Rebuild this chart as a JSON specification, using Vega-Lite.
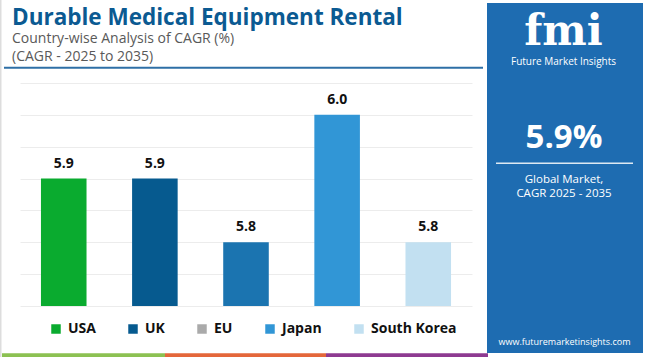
{
  "$schema": "https://vega.github.io/schema/vega-lite/v6.json",
  "width": 452,
  "height": 223,
  "autosize": {"type": "none"},
  "padding": {"left": 20, "top": 83, "right": 178, "bottom": 51},
  "background": "white",
  "config": {"font": "Open Sans", "view": {"stroke": null}},
  "layer": [
    {
      "data": {"values": [
        {"Country": "USA", "CAGR": 5.9},
        {"Country": "UK", "CAGR": 5.9},
        {"Country": "EU", "CAGR": 5.8},
        {"Country": "Japan", "CAGR": 6.0},
        {"Country": "South Korea", "CAGR": 5.8}
      ]},
      "encoding": {
        "x": {"field": "Country", "type": "nominal", "sort": null,
              "scale": {"paddingInner": 0.5, "paddingOuter": 0.23}, "axis": null},
        "y": {"field": "CAGR", "type": "quantitative",
              "scale": {"domain": [5.7, 6.05], "nice": false, "zero": false},
              "axis": {"grid": true, "labels": false, "ticks": false, "domain": false, "title": null,
                       "values": [5.7, 5.75, 5.8, 5.85, 5.9, 5.95, 6.0, 6.05],
                       "gridColor": "#ececec", "gridWidth": 1}}
      },
      "layer": [
        {
          "mark": {"type": "bar"},
          "encoding": {
            "y2": {"datum": 5.7},
            "color": {"field": "Country", "type": "nominal", "sort": null,
              "scale": {"domain": ["USA", "UK", "EU", "Japan", "South Korea"],
                        "range": ["#0aab2f", "#065a8f", "#1b74b0", "#3196d6", "#c2e0f1"]},
              "legend": null}
          }
        },
        {
          "mark": {"type": "text", "baseline": "alphabetic", "dy": -11, "fontSize": 14,
                   "fontWeight": "bold", "color": "#111111", "font": "Open Sans"},
          "encoding": {"text": {"field": "CAGR", "type": "quantitative", "format": ".1f"}}
        }
      ]
    },
    {
      "data": {"values": [
        {"Country": "USA"},
        {"Country": "UK"},
        {"Country": "EU"},
        {"Country": "Japan"},
        {"Country": "South Korea"}
      ]},
      "mark": {"type": "square", "size": 0, "opacity": 0},
      "encoding": {
        "color": {"field": "Country", "type": "nominal", "sort": null,
          "scale": {"domain": ["USA", "UK", "EU", "Japan", "South Korea"],
                    "range": ["#0aab2f", "#065a8f", "#aaaaaa", "#3196d6", "#c2e0f1"]},
          "legend": {"orient": "none", "legendX": 29, "legendY": 239, "direction": "horizontal",
                     "columns": 5, "gridAlign": "none", "title": null, "symbolType": "square", "symbolSize": 90,
                     "symbolStrokeWidth": 0, "symbolOpacity": 1, "labelFont": "Open Sans", "labelFontSize": 14,
                     "labelFontWeight": "bold", "labelColor": "#111111", "columnPadding": 30,
                     "labelOffset": 5, "padding": 0}
        }
      }
    },
    {
      "data": {"values": [{}]},
      "layer": [
        {
          "mark": {"type": "rule", "color": "#2e6fa6", "strokeWidth": 2},
          "encoding": {
            "x": {"datum": 4, "type": "quantitative", "scale": {"domain": [20, 472], "nice": false, "zero": false}, "axis": null},
            "x2": {"datum": 483},
            "y": {"datum": 67.7, "type": "quantitative", "scale": {"domain": [306, 83], "nice": false, "zero": false}, "axis": null}
          }
        },
        {
          "mark": {"type": "rule", "color": "#dddddd", "strokeWidth": 1.5},
          "encoding": {
            "x": {"datum": 0.75, "type": "quantitative", "scale": {"domain": [20, 472], "nice": false, "zero": false}, "axis": null},
            "y": {"datum": 0, "type": "quantitative", "scale": {"domain": [306, 83], "nice": false, "zero": false}, "axis": null},
            "y2": {"datum": 357}
          }
        },
        {
          "mark": {"type": "text", "text": "Durable Medical Equipment Rental", "font": "Open Sans", "fontWeight": "bold", "fontSize": 22.5, "color": "#0b5a92", "align": "left", "baseline": "alphabetic"},
          "encoding": {
            "x": {"datum": 12, "type": "quantitative", "scale": {"domain": [20, 472], "nice": false, "zero": false}, "axis": null},
            "y": {"datum": 24.5, "type": "quantitative", "scale": {"domain": [306, 83], "nice": false, "zero": false}, "axis": null}
          }
        },
        {
          "mark": {"type": "text", "text": "Country-wise Analysis of CAGR (%)", "font": "Open Sans", "fontSize": 14, "color": "#595959", "align": "left", "baseline": "alphabetic"},
          "encoding": {
            "x": {"datum": 12, "type": "quantitative", "scale": {"domain": [20, 472], "nice": false, "zero": false}, "axis": null},
            "y": {"datum": 43, "type": "quantitative", "scale": {"domain": [306, 83], "nice": false, "zero": false}, "axis": null}
          }
        },
        {
          "mark": {"type": "text", "text": "(CAGR - 2025 to 2035)", "font": "Open Sans", "fontSize": 14, "color": "#595959", "align": "left", "baseline": "alphabetic"},
          "encoding": {
            "x": {"datum": 12, "type": "quantitative", "scale": {"domain": [20, 472], "nice": false, "zero": false}, "axis": null},
            "y": {"datum": 61.3, "type": "quantitative", "scale": {"domain": [306, 83], "nice": false, "zero": false}, "axis": null}
          }
        },
        {
          "mark": {"type": "rule", "color": "#8cc152", "strokeWidth": 4},
          "encoding": {
            "x": {"datum": 2, "type": "quantitative", "scale": {"domain": [20, 472], "nice": false, "zero": false}, "axis": null},
            "x2": {"datum": 165},
            "y": {"datum": 355.3, "type": "quantitative", "scale": {"domain": [306, 83], "nice": false, "zero": false}, "axis": null}
          }
        },
        {
          "mark": {"type": "rule", "color": "#e4673a", "strokeWidth": 4},
          "encoding": {
            "x": {"datum": 165, "type": "quantitative", "scale": {"domain": [20, 472], "nice": false, "zero": false}, "axis": null},
            "x2": {"datum": 326},
            "y": {"datum": 355.3, "type": "quantitative", "scale": {"domain": [306, 83], "nice": false, "zero": false}, "axis": null}
          }
        },
        {
          "mark": {"type": "rule", "color": "#8e3a91", "strokeWidth": 4},
          "encoding": {
            "x": {"datum": 326, "type": "quantitative", "scale": {"domain": [20, 472], "nice": false, "zero": false}, "axis": null},
            "x2": {"datum": 488},
            "y": {"datum": 355.3, "type": "quantitative", "scale": {"domain": [306, 83], "nice": false, "zero": false}, "axis": null}
          }
        },
        {
          "mark": {"type": "rect", "color": "#1e6cb1"},
          "encoding": {
            "x": {"datum": 487, "type": "quantitative", "scale": {"domain": [20, 472], "nice": false, "zero": false}, "axis": null},
            "x2": {"datum": 643},
            "y": {"datum": 3, "type": "quantitative", "scale": {"domain": [306, 83], "nice": false, "zero": false}, "axis": null},
            "y2": {"datum": 353}
          }
        },
        {
          "mark": {"type": "text", "text": "fmi", "font": "DejaVu Serif", "fontWeight": "bold", "fontSize": 42, "color": "#ffffff", "align": "center", "baseline": "alphabetic"},
          "encoding": {
            "x": {"datum": 563.5, "type": "quantitative", "scale": {"domain": [20, 472], "nice": false, "zero": false}, "axis": null},
            "y": {"datum": 45, "type": "quantitative", "scale": {"domain": [306, 83], "nice": false, "zero": false}, "axis": null}
          }
        },
        {
          "mark": {"type": "text", "text": "Future Market Insights", "fontSize": 10, "color": "#ffffff", "align": "center", "baseline": "alphabetic"},
          "encoding": {
            "x": {"datum": 563.5, "type": "quantitative", "scale": {"domain": [20, 472], "nice": false, "zero": false}, "axis": null},
            "y": {"datum": 65, "type": "quantitative", "scale": {"domain": [306, 83], "nice": false, "zero": false}, "axis": null}
          }
        },
        {
          "mark": {"type": "text", "text": "5.9%", "fontSize": 33, "fontWeight": "bold", "color": "#ffffff", "align": "center", "baseline": "alphabetic"},
          "encoding": {
            "x": {"datum": 564, "type": "quantitative", "scale": {"domain": [20, 472], "nice": false, "zero": false}, "axis": null},
            "y": {"datum": 148.3, "type": "quantitative", "scale": {"domain": [306, 83], "nice": false, "zero": false}, "axis": null}
          }
        },
        {
          "mark": {"type": "rule", "color": "#ffffff", "strokeWidth": 1.5, "opacity": 0.85},
          "encoding": {
            "x": {"datum": 496, "type": "quantitative", "scale": {"domain": [20, 472], "nice": false, "zero": false}, "axis": null},
            "x2": {"datum": 633},
            "y": {"datum": 163.3, "type": "quantitative", "scale": {"domain": [306, 83], "nice": false, "zero": false}, "axis": null}
          }
        },
        {
          "mark": {"type": "text", "text": "Global Market,", "fontSize": 11.5, "color": "#ffffff", "align": "center", "baseline": "alphabetic"},
          "encoding": {
            "x": {"datum": 564, "type": "quantitative", "scale": {"domain": [20, 472], "nice": false, "zero": false}, "axis": null},
            "y": {"datum": 183, "type": "quantitative", "scale": {"domain": [306, 83], "nice": false, "zero": false}, "axis": null}
          }
        },
        {
          "mark": {"type": "text", "text": "CAGR 2025 - 2035", "fontSize": 11.5, "color": "#ffffff", "align": "center", "baseline": "alphabetic"},
          "encoding": {
            "x": {"datum": 564, "type": "quantitative", "scale": {"domain": [20, 472], "nice": false, "zero": false}, "axis": null},
            "y": {"datum": 197, "type": "quantitative", "scale": {"domain": [306, 83], "nice": false, "zero": false}, "axis": null}
          }
        },
        {
          "mark": {"type": "text", "text": "www.futuremarketinsights.com", "fontSize": 9, "color": "#ffffff", "align": "center", "baseline": "alphabetic"},
          "encoding": {
            "x": {"datum": 564.5, "type": "quantitative", "scale": {"domain": [20, 472], "nice": false, "zero": false}, "axis": null},
            "y": {"datum": 344.5, "type": "quantitative", "scale": {"domain": [306, 83], "nice": false, "zero": false}, "axis": null}
          }
        }
      ]
    }
  ],
  "resolve": {"scale": {"x": "independent", "y": "independent", "color": "independent"}}
}
